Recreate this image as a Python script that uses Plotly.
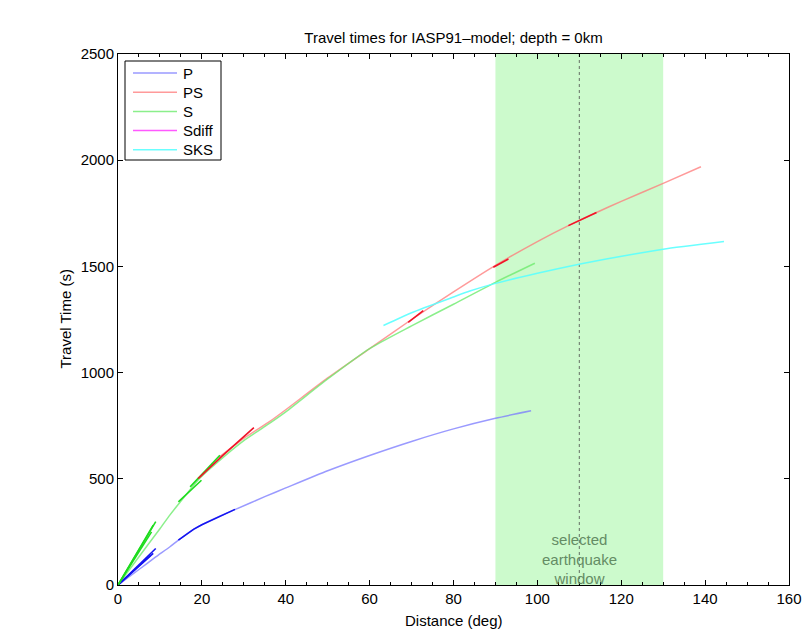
import plotly.graph_objects as go

# ---------------- data ----------------
# main branches
P_dist = [0, 5, 9, 12.4, 14.4, 18, 20, 24, 28, 35, 40, 50, 60, 70, 80, 90, 98.5]
P_time = [0, 73, 132, 180, 211, 262, 284, 322, 356, 416, 457, 538, 610, 676, 735, 785, 820]

PS_dist = [24, 30, 36.2, 40, 50, 60, 70, 80, 90, 100, 107.4, 114.1, 120, 130, 139]
PS_time = [600, 690, 770, 825, 975, 1113, 1250, 1380, 1505, 1617, 1692, 1754, 1806, 1891, 1969]

S_dist = [0, 5, 10, 12.4, 14.4, 19.6, 25, 30, 36.2, 40, 50, 60, 70, 80, 90, 99.4]
S_time = [0, 133, 265, 330, 380, 505, 600, 680, 762, 815, 970, 1113, 1220, 1322, 1425, 1515]

Sdiff_dist = []
Sdiff_time = []

SKS_dist = [63.3, 70, 80, 83.9, 90, 100, 110.2, 122.1, 130, 144.5]
SKS_time = [1222, 1282, 1356, 1384, 1420, 1468, 1511, 1555, 1581, 1617]

# short strongly-drawn (overlapping) segments
P_seg_dist = [[0, 9.0], [0, 8.4], [0, 7.8], [14.4, 18, 20, 24, 27.9]]
P_seg_time = [[0, 172], [0, 149], [0, 140], [211, 262, 284, 322, 356]]

S_seg_dist = [[0, 9.0], [0, 8.4], [0, 8.0], [14.4, 19.9], [17.2, 24.3]]
S_seg_time = [[0, 298], [0, 282], [0, 250], [391, 493], [462, 611]]

PS_seg_dist = [[19.1, 25, 32.4], [69.2, 72.8], [89.5, 93.1], [107.4, 114.1]]
PS_seg_time = [[501, 610, 741], [1237, 1292], [1496, 1535], [1692, 1754]]

phase_names = ["P", "PS", "S", "Sdiff", "SKS"]

window_range = [90, 130]
window_center = 110
window_label = "selected<br>earthquake<br>window"

title_text = "Travel times for IASP91\u2013model; depth = 0km"
x_title = "Distance (deg)"
y_title = "Travel Time (s)"

# ---------------- styling ----------------
FONT = "Liberation Sans, Arial, Helvetica"
light = {
    "P": "rgba(120,120,255,0.75)",
    "PS": "rgba(255,120,120,0.75)",
    "S": "rgba(110,235,110,0.8)",
    "Sdiff": "rgba(255,60,255,0.85)",
    "SKS": "rgba(90,255,255,0.9)",
}
strong = {"P": "rgb(20,20,240)", "PS": "rgb(240,20,40)", "S": "rgb(30,220,30)"}

W, H = 804, 630
ML, MR, MT, MB = 118, 15, 54, 45
PW, PH = W - ML - MR, H - MT - MB

def px_to_paper_x(px):
    return (px - ML) / PW

def px_to_paper_y(py):
    return (H - MB - py) / PH

fig = go.Figure()

# selected window
fig.add_shape(type="rect", xref="x", yref="paper", x0=window_range[0], x1=window_range[1],
              y0=0, y1=1, fillcolor="rgb(204,250,204)", line_width=0, layer="below")
fig.add_shape(type="line", xref="x", yref="paper", x0=window_center, x1=window_center,
              y0=0, y1=1, line=dict(color="rgb(100,110,100)", width=1, dash="dot"), layer="below")

main = [("P", P_dist, P_time), ("PS", PS_dist, PS_time), ("S", S_dist, S_time),
        ("Sdiff", Sdiff_dist, Sdiff_time), ("SKS", SKS_dist, SKS_time)]
for name, xs, ys in main:
    fig.add_trace(go.Scatter(x=xs, y=ys, mode="lines", name=name, showlegend=False,
                             line=dict(color=light[name], width=1.5, shape="spline", smoothing=0.6)))

for name, dd, tt in [("P", P_seg_dist, P_seg_time), ("S", S_seg_dist, S_seg_time),
                     ("PS", PS_seg_dist, PS_seg_time)]:
    for xs, ys in zip(dd, tt):
        fig.add_trace(go.Scatter(x=xs, y=ys, mode="lines", showlegend=False, hoverinfo="skip",
                                 line=dict(color=strong[name], width=1.6)))

fig.add_annotation(x=window_center, y=0, xref="x", yref="y", text=window_label,
                   showarrow=False, yanchor="bottom", yshift=-4,
                   font=dict(family=FONT, size=15, color="rgb(100,140,100)"))

# legend box (drawn as shapes + text to match the original compact legend)
box_l, box_r, box_t, box_b = 125, 221, 61, 160
fig.add_shape(type="rect", xref="paper", yref="paper",
              x0=px_to_paper_x(box_l), x1=px_to_paper_x(box_r),
              y0=px_to_paper_y(box_b), y1=px_to_paper_y(box_t),
              fillcolor="white", line=dict(color="black", width=1), layer="above")
row0, row_step = 73, 19.2
for i, name in enumerate(phase_names):
    yy = px_to_paper_y(row0 + i * row_step)
    fig.add_shape(type="line", xref="paper", yref="paper",
                  x0=px_to_paper_x(133), x1=px_to_paper_x(177), y0=yy, y1=yy,
                  line=dict(color=light[name], width=1.5), layer="above")
    fig.add_annotation(xref="paper", yref="paper", x=px_to_paper_x(181), y=yy, text=name,
                       showarrow=False, xanchor="left", yanchor="middle",
                       font=dict(family=FONT, size=15, color="black"))

# axis titles
fig.add_annotation(xref="paper", yref="paper", x=0.5, y=px_to_paper_y(620), text=x_title,
                   showarrow=False, xanchor="center", yanchor="middle",
                   font=dict(family=FONT, size=15, color="black"))
fig.add_annotation(xref="paper", yref="paper", x=px_to_paper_x(65), y=0.5, text=y_title,
                   showarrow=False, xanchor="center", yanchor="middle", textangle=-90,
                   font=dict(family=FONT, size=15, color="black"))

axis_common = dict(showline=True, linecolor="black", linewidth=1, mirror="allticks",
                   ticks="inside", ticklen=5, tickcolor="black", showgrid=False, zeroline=False,
                   automargin=False,
                   tickfont=dict(family=FONT, size=15, color="black"))

fig.update_layout(
    width=W, height=H,
    margin=dict(l=ML, r=MR, t=MT, b=MB, autoexpand=False),
    paper_bgcolor="white", plot_bgcolor="white",
    title=dict(text=title_text, x=(ML + PW / 2) / W, xanchor="center", y=1 - 38 / H, yanchor="middle",
               font=dict(family=FONT, size=15, color="black")),
    xaxis=dict(range=[0, 160], dtick=20, tick0=0,
               minor=dict(dtick=5, ticks="inside", ticklen=3, tickcolor="black"),
               **axis_common),
    yaxis=dict(range=[0, 2500], dtick=500, tick0=0, **axis_common),
    showlegend=False,
)

fig.write_html("out.html", config={"responsive": False, "displayModeBar": False},
               post_script="document.body.style.margin='0';document.body.style.overflow='hidden';")
